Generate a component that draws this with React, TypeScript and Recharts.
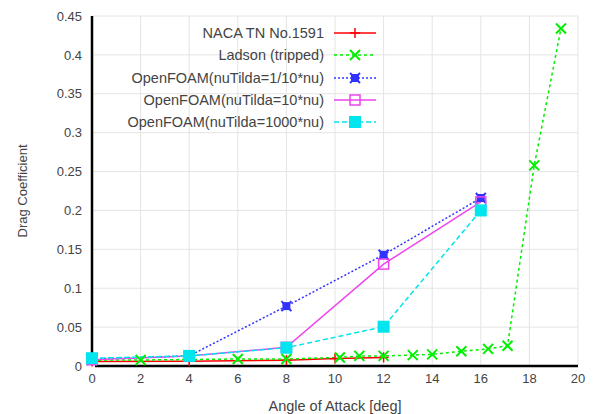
import React from 'react';
import {
  LineChart,
  Line,
  XAxis,
  YAxis,
  CartesianGrid,
  Label,
} from 'recharts';

// angle of attack [deg] and drag coefficient per source
const nacaAlpha = [0, 4, 8, 10, 12];
const nacaCd = [0.0058, 0.006, 0.0075, 0.0095, 0.011];

const ladsonAlpha = [0, 2, 6, 8, 10.2, 11, 12, 13.2, 14, 15.2, 16.3, 17.1, 18.2, 19.3];
const ladsonCd = [0.0075, 0.0077, 0.009, 0.009, 0.011, 0.013, 0.013, 0.014, 0.015, 0.019, 0.022, 0.026, 0.258, 0.434];

const foamAlpha = [0, 4, 8, 12, 16];
const foamLowCd = [0.009, 0.013, 0.077, 0.143, 0.216];
const foamMidCd = [0.008, 0.013, 0.024, 0.131, 0.211];
const foamHighCd = [0.01, 0.013, 0.0235, 0.0505, 0.2];

const xTicks = [0, 2, 4, 6, 8, 10, 12, 14, 16, 18, 20];
const yTicks = [0, 0.05, 0.1, 0.15, 0.2, 0.25, 0.3, 0.35, 0.4, 0.45];

type Kind = 'plus' | 'cross' | 'star' | 'openSquare' | 'square';

const toRows = (xs: number[], ys: number[]) => xs.map((a, i) => ({ alpha: a, cd: ys[i] }));

const series = [
  { name: 'NACA TN No.1591', color: '#ff0000', dash: undefined, kind: 'plus' as Kind, data: toRows(nacaAlpha, nacaCd) },
  { name: 'Ladson (tripped)', color: '#00ee00', dash: '3 3', kind: 'cross' as Kind, data: toRows(ladsonAlpha, ladsonCd) },
  { name: 'OpenFOAM(nuTilda=1/10*nu)', color: '#3333ff', dash: '2 2', kind: 'star' as Kind, data: toRows(foamAlpha, foamLowCd) },
  { name: 'OpenFOAM(nuTilda=10*nu)', color: '#ee44ee', dash: undefined, kind: 'openSquare' as Kind, data: toRows(foamAlpha, foamMidCd) },
  { name: 'OpenFOAM(nuTilda=1000*nu)', color: '#00e5ee', dash: '5 3', kind: 'square' as Kind, data: toRows(foamAlpha, foamHighCd) },
];

// invisible helper rows so the mirrored frame axes get drawn
const frameRows = [{ alpha: 0, cd: 0 }];

const FONT = 'Liberation Sans, Arial, sans-serif';
const TEXT = '#444';

const Marker = ({ cx, cy, kind, color }: { cx: number; cy: number; kind: Kind; color: string }) => {
  const s = 5;
  if (kind === 'plus')
    return (
      <g stroke={color} strokeWidth={1.5}>
        <line x1={cx - s} y1={cy} x2={cx + s} y2={cy} />
        <line x1={cx} y1={cy - s} x2={cx} y2={cy + s} />
      </g>
    );
  if (kind === 'cross')
    return (
      <g stroke={color} strokeWidth={2}>
        <line x1={cx - s} y1={cy - s} x2={cx + s} y2={cy + s} />
        <line x1={cx - s} y1={cy + s} x2={cx + s} y2={cy - s} />
      </g>
    );
  if (kind === 'star')
    return (
      <g stroke={color} strokeWidth={2}>
        <rect x={cx - 4} y={cy - 4} width={8} height={8} fill={color} stroke="none" />
        <line x1={cx - s} y1={cy - s} x2={cx + s} y2={cy + s} />
        <line x1={cx - s} y1={cy + s} x2={cx + s} y2={cy - s} />
      </g>
    );
  if (kind === 'openSquare')
    return <rect x={cx - 5} y={cy - 5} width={10} height={10} fill="none" stroke={color} strokeWidth={1.5} />;
  return <rect x={cx - 6} y={cy - 6} width={12} height={12} fill={color} />;
};

const LegendBox = () => (
  <div
    style={{
      position: 'absolute',
      top: 22,
      left: 60,
      width: 316,
      fontFamily: FONT,
      fontSize: 14.5,
      color: TEXT,
    }}
  >
    {series.map((s) => (
      <div key={s.name} style={{ display: 'flex', alignItems: 'center', justifyContent: 'flex-end', height: 22.3 }}>
        <span style={{ marginRight: 10, whiteSpace: 'nowrap' }}>{s.name}</span>
        <svg width={42} height={14}>
          <line x1={0} y1={7} x2={42} y2={7} stroke={s.color} strokeWidth={1.5} strokeDasharray={s.dash} />
          <Marker cx={21} cy={7} kind={s.kind} color={s.color} />
        </svg>
      </div>
    ))}
  </div>
);

const blank = () => '';

export default function App() {
  return (
    <div style={{ position: 'absolute', left: 0, top: 0, width: 598, height: 414, background: '#fff' }}>
      <LineChart
        width={598}
        height={414}
        margin={{ top: 16, right: 20, bottom: 0, left: 0 }}
        style={{ fontFamily: FONT }}
      >
        <CartesianGrid xAxisId="main" yAxisId="main" stroke="#e4e4e4" />
        <XAxis
          xAxisId="main"
          dataKey="alpha"
          type="number"
          domain={[0, 20]}
          ticks={xTicks}
          height={48}
          axisLine={{ stroke: '#000', strokeWidth: 2.5 }}
          tickLine={false}
          tick={{ fontSize: 13, fill: TEXT }}
          allowDuplicatedCategory={false}
        >
          <Label value="Angle of Attack [deg]" position="insideBottom" offset={3} style={{ fontSize: 14.5, fill: TEXT }} />
        </XAxis>
        <XAxis
          xAxisId="inBottom"
          dataKey="alpha"
          type="number"
          domain={[0, 20]}
          ticks={xTicks}
          height={0}
          mirror
          axisLine={false}
          tickLine={{ stroke: '#000', strokeWidth: 2 }}
          tickSize={5}
          tickFormatter={blank}
        />
        <XAxis
          xAxisId="top"
          dataKey="alpha"
          orientation="top"
          type="number"
          domain={[0, 20]}
          ticks={xTicks}
          height={0}
          mirror
          axisLine={{ stroke: '#000', strokeWidth: 2.5 }}
          tickLine={{ stroke: '#000', strokeWidth: 2 }}
          tickSize={5}
          tickFormatter={blank}
        />
        <YAxis
          yAxisId="main"
          type="number"
          domain={[0, 0.45]}
          ticks={yTicks}
          width={92}
          axisLine={{ stroke: '#000', strokeWidth: 2.5 }}
          tickLine={false}
          tickMargin={4}
          tick={{ fontSize: 13, fill: TEXT }}
        >
          <Label
            value="Drag Coefficient"
            angle={-90}
            position="insideLeft"
            offset={22}
            style={{ fontSize: 13, fill: TEXT, textAnchor: 'middle' }}
          />
        </YAxis>
        <YAxis
          yAxisId="inLeft"
          type="number"
          domain={[0, 0.45]}
          ticks={yTicks}
          width={0}
          mirror
          axisLine={false}
          tickLine={{ stroke: '#000', strokeWidth: 2 }}
          tickSize={5}
          tickFormatter={blank}
        />
        <YAxis
          yAxisId="right"
          orientation="right"
          type="number"
          domain={[0, 0.45]}
          ticks={yTicks}
          width={0}
          mirror
          axisLine={{ stroke: '#000', strokeWidth: 2.5 }}
          tickLine={{ stroke: '#000', strokeWidth: 2 }}
          tickSize={5}
          tickFormatter={blank}
        />
        <Line xAxisId="top" yAxisId="right" data={frameRows} dataKey="cd" stroke="none" dot={false} activeDot={false} isAnimationActive={false} />
        <Line xAxisId="inBottom" yAxisId="inLeft" data={frameRows} dataKey="cd" stroke="none" dot={false} activeDot={false} isAnimationActive={false} />
        {series.map((s) => (
          <Line
            key={s.name}
            xAxisId="main"
            yAxisId="main"
            data={s.data}
            dataKey="cd"
            name={s.name}
            type="linear"
            stroke={s.color}
            strokeWidth={1.5}
            strokeDasharray={s.dash}
            dot={(p: any) => <Marker key={`${s.name}-${p.index}`} cx={p.cx} cy={p.cy} kind={s.kind} color={s.color} />}
            activeDot={false}
            isAnimationActive={false}
          />
        ))}
      </LineChart>
      <LegendBox />
    </div>
  );
}
